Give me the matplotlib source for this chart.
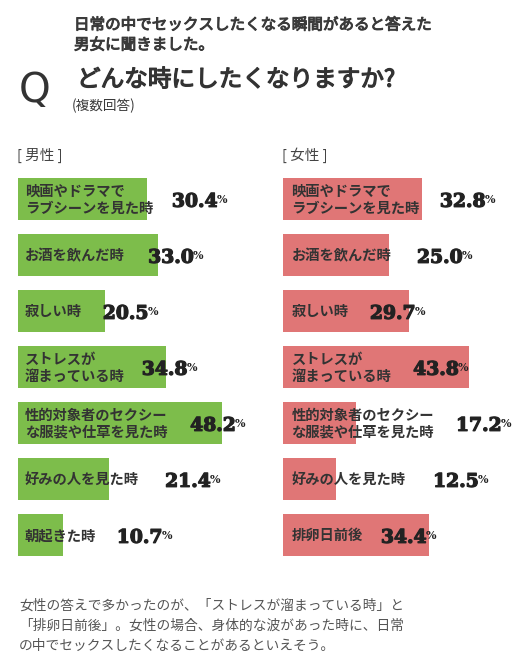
import matplotlib
matplotlib.use("Agg")
import matplotlib.pyplot as plt
import matplotlib.patheffects as pe

plt.rcParams['font.family'] = ['Noto Sans CJK JP', 'DejaVu Sans']

# ---- data ----
male_labels = ["映画やドラマで\nラブシーンを見た時", "お酒を飲んだ時", "寂しい時",
               "ストレスが\n溜まっている時", "性的対象者のセクシー\nな服装や仕草を見た時",
               "好みの人を見た時", "朝起きた時"]
male_values = [30.4, 33.0, 20.5, 34.8, 48.2, 21.4, 10.7]
female_labels = ["映画やドラマで\nラブシーンを見た時", "お酒を飲んだ時", "寂しい時",
                 "ストレスが\n溜まっている時", "性的対象者のセクシー\nな服装や仕草を見た時",
                 "好みの人を見た時", "排卵日前後"]
female_values = [32.8, 25.0, 29.7, 43.8, 17.2, 12.5, 34.4]

# layout: x position (data units) where each percentage label starts
male_pct_x = [36.3, 30.7, 20.0, 29.2, 40.6, 34.7, 23.3]
female_pct_x = [37.0, 31.6, 20.5, 30.7, 40.8, 35.4, 23.1]

W, H = 526, 664
fig = plt.figure(figsize=(W / 100, H / 100), dpi=100)
fig.patch.set_facecolor("white")

def fx(px):
    return px / W

def fy(py):
    return 1 - py / H

GREEN = "#7dbd4b"
RED = "#e07676"
DARK = "#333333"

px_per_unit = 4.24
ax_w_px = 240
top_px, bot_px = 171, 563

def make_axes(left_px, labels, values, pct_x, color, text_off):
    ax = fig.add_axes([fx(left_px), fy(bot_px), ax_w_px / W, (bot_px - top_px) / H])
    ax.set_xlim(0, ax_w_px / px_per_unit)
    ax.set_ylim(len(values) - 0.5, -0.5)
    ys = list(range(len(values)))
    ax.barh(ys, values, height=0.75, color=color, edgecolor="none")
    for y, lab, v, px in zip(ys, labels, values, pct_x):
        ax.text(text_off, y + 0.02, lab, va="center", ha="left", fontsize=10.3,
                fontweight="bold", color=DARK, linespacing=1.25)
        t = ax.text(px, y + 0.05, f"{v:.1f}", va="center", ha="left",
                    fontsize=13.5, fontweight="bold", family="DejaVu Serif",
                    color="#222222",
                    path_effects=[pe.withStroke(linewidth=0.9, foreground="#222222")])
        ax.annotate("%", xy=(1, 0.3), xycoords=t, xytext=(-0.5, 0),
                    textcoords="offset points", va="bottom", ha="left",
                    fontsize=8, fontweight="bold", family="DejaVu Serif",
                    color="#222222")
    ax.axis("off")
    return ax

make_axes(18, male_labels, male_values, male_pct_x, GREEN, 1.6)
make_axes(283, female_labels, female_values, female_pct_x, RED, 2.0)

# ---- titles & texts ----
thick = [pe.withStroke(linewidth=0.7, foreground="#3a3a3a")]
fig.text(fx(74), fy(25), "日常の中でセックスしたくなる瞬間があると答えた",
         fontsize=11.2, color="#3a3a3a", va="center", ha="left", path_effects=thick)
fig.text(fx(74), fy(45), "男女に聞きました。",
         fontsize=11.2, color="#3a3a3a", va="center", ha="left", path_effects=thick)
fig.text(fx(19), fy(91), "Q", fontsize=29, color="#333333", va="center", ha="left",
         family="DejaVu Sans", fontweight="normal")
fig.text(fx(77), fy(80), "どんな時にしたくなりますか?",
         fontsize=17, color="#333333", va="center", ha="left",
         path_effects=[pe.withStroke(linewidth=0.9, foreground="#333333")])
fig.text(fx(72), fy(106), "(複数回答)", fontsize=9.8, color="#3a3a3a",
         va="center", ha="left")
fig.text(fx(17), fy(155), "[ 男性 ]", fontsize=10.5, color="#444444",
         va="center", ha="left")
fig.text(fx(282), fy(155), "[ 女性 ]", fontsize=10.5, color="#444444",
         va="center", ha="left")

fig.text(fx(19), fy(626),
         "女性の答えで多かったのが、「ストレスが溜まっている時」と\n"
         "「排卵日前後」。女性の場合、身体的な波があった時に、日常\n"
         "の中でセックスしたくなることがあるといえそう。",
         fontsize=9.9, color="#555555", va="center", ha="left", linespacing=1.55)

fig.savefig("out.png", dpi=100, facecolor="white")
